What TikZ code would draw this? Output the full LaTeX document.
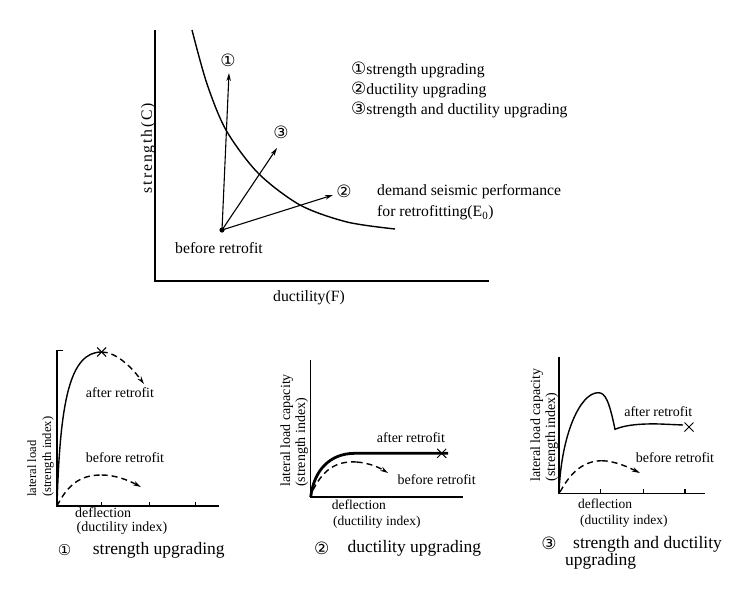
\documentclass[tikz,border=0pt]{standalone}
\usepackage{fontspec}
\setmainfont{Liberation Serif}
\newfontfamily\symf{DejaVu Sans}
\usetikzlibrary{arrows.meta,shapes.misc,calc}
\tikzset{
  ax/.style={line width=1.3pt},
  crv/.style={line width=1.4pt},
  thk/.style={line width=2.8pt},
  dsh/.style={line width=1.4pt, dash pattern=on 6pt off 4pt},
  arr/.style={-{Stealth[length=8pt,width=4.5pt]}},
  lbl/.style={inner sep=0pt, font=\fontsize{15.7}{19}\selectfont},
  sml/.style={inner sep=0pt, font=\fontsize{14}{16}\selectfont},
  defl/.style={inner sep=0pt, anchor=west, align=left, font=\fontsize{14}{13.5}\selectfont},
  rot/.style={inner sep=0pt, rotate=90, anchor=west},
  capt/.style={inner sep=0pt, font=\fontsize{17.5}{20}\selectfont},
  num/.style={inner sep=0pt, font=\symf\fontsize{17}{18}\selectfont},
  xm/.style={cross out, draw, line width=1pt, minimum size=8pt, inner sep=0pt},
}
\newcommand{\cnum}[1]{{\symf\fontsize{17}{18}\selectfont #1}}
\begin{document}
\begin{tikzpicture}[x=1pt,y=-1pt]
\useasboundingbox (0,0) rectangle (756,595);
% ================= main chart =================
\coordinate (Ytop) at (155,30);
\coordinate (O) at (155,281);
\coordinate (Xend) at (489,281);
\draw[ax] (Ytop) -- (O) -- (Xend);
\draw[crv] plot[smooth] coordinates {(192,30) (206.7,83) (226,130) (258,173) (300,205) (347,222) (395,229)};
\coordinate (br) at (222,230);
\fill (br) circle (2.6);
\coordinate (a1) at (229,73);
\coordinate (a3) at (277,148);
\coordinate (a2) at (333,195);
\draw[line width=1.1pt, arr] (br) -- (a1);
\draw[line width=1.1pt, arr] (br) -- (a3);
\draw[line width=1.1pt, arr] (br) -- (a2);
\node[num] (n1) at (228,60) {①};
\node[num] (n3) at (281,132) {③};
\node[num] (n2) at (344,191) {②};
\node[lbl] (brl) at (219,248) {before retrofit};
\node[lbl, anchor=west] (lg1) at (351,70) {\cnum{①}strength upgrading};
\node[lbl, anchor=west] (lg2) at (351,90) {\cnum{②}ductility upgrading};
\node[lbl, anchor=west] (lg3) at (351,110) {\cnum{③}strength and ductility upgrading};
\node[lbl, anchor=west] (dm1) at (377,192) {demand seismic performance};
\node[lbl, anchor=west] (dm2) at (377,213) {for retrofitting(E\textsubscript{0})};
\node[lbl, rotate=90] (yl) at (148,148) {\addfontfeature{LetterSpace=12}strength(C)};
\node[lbl] (xl) at (309,298) {ductility(F)};
% ================= chart 1 =================
\coordinate (Y1) at (57,350.7);
\coordinate (Y1t) at (63,350.7);
\coordinate (O1) at (57,506);
\coordinate (X1) at (219,506);
\draw[ax] (Y1t) -- (Y1) -- (O1) -- (X1);
\foreach \t in {101.7,149.3,195.7} \draw[ax] (\t,506) -- (\t,502);
\draw[crv] (O1) .. controls (60,400) and (70,352) .. (101.7,352);
\node[xm] (x1) at (101.7,352) {};
\draw[dsh, arr] (101.7,352) .. controls (115,352) and (130,365) .. (144,384);
\draw[dsh] (O1) .. controls (70,480) and (85,475) .. (101.7,475);
\draw[dsh, arr] (101.7,475) .. controls (115,475) and (128,480) .. (141,487);
\node[sml] (c1a) at (120,393) {after retrofit};
\node[sml] (c1b) at (125,458) {before retrofit};
\node[rot, font=\fontsize{12.6}{14}\selectfont] (c1y1) at (31.7,497) {lateral load};
\node[rot, font=\fontsize{12.6}{14}\selectfont] (c1y2) at (48,497) {(strength index)};
\node[defl] (c1x) at (75,521) {deflection\\\hspace*{1.5pt}(ductility index)};
\node[num, font=\symf\fontsize{15}{16}\selectfont] (c1n) at (64.7,550) {①};
\node[capt, anchor=west] (c1c) at (92.7,550) {strength upgrading};
% ================= chart 2 =================
\coordinate (Y2) at (310.7,360);
\coordinate (O2) at (310.7,497);
\coordinate (X2) at (463.3,497);
\draw[ax] (Y2) -- (O2) -- (X2);
\draw[thk] (O2) .. controls (314,470) and (330,453.3) .. (355,453.3) -- (448,453.3);
\node[xm] (x2) at (441.7,453.3) {};
\draw[dsh] (313,490) .. controls (325,466) and (340,461) .. (356.7,462);
\draw[dsh, arr] (356.7,462) .. controls (370,463) and (380,468) .. (388,473);
\node[sml] (c2a) at (411,438) {after retrofit};
\node[sml] (c2b) at (436.7,480) {before retrofit};
\node[rot, font=\fontsize{14}{16}\selectfont] (c2y1) at (286.7,487) {lateral load capacity};
\node[rot, font=\fontsize{14}{16}\selectfont] (c2y2) at (301.7,487) {(strength index)};
\node[defl, font=\fontsize{13.5}{16}\selectfont] (c2x) at (331.7,514.5) {deflection\\\hspace*{1.3pt}(ductility index)};
\node[num] (c2n) at (321.7,548) {②};
\node[capt, anchor=west] (c2c) at (347.3,548) {ductility upgrading};
% ================= chart 3 =================
\coordinate (Y3) at (559,356.7);
\coordinate (O3) at (559,493.3);
\coordinate (X3) at (705,493.3);
\draw[ax] (Y3) -- (O3) -- (X3);
\foreach \t in {600.7,643.3,685} \draw[ax] (\t,493.3) -- (\t,489.3);
\draw[crv] (O3) .. controls (561,435) and (580,393) .. (598,392.7)
  .. controls (605,392.5) and (609,400) .. (615,429.3)
  .. controls (625,425) and (640,423.5) .. (660,424) -- (683,425);
\node[xm] (x3) at (689,427) {};
\draw[dsh] (560,492) .. controls (572,470) and (585,461) .. (601.7,460.7);
\draw[dsh, arr] (601.7,460.7) .. controls (615,461) and (628,467) .. (640,473);
\node[sml] (c3a) at (658.3,411.7) {after retrofit};
\node[sml] (c3b) at (675,457.3) {before retrofit};
\node[rot, font=\fontsize{14}{16}\selectfont] (c3y1) at (536.7,481.7) {lateral load capacity};
\node[rot, font=\fontsize{14}{16}\selectfont] (c3y2) at (551.7,481.7) {(strength index)};
\node[defl, font=\fontsize{13.5}{15.3}\selectfont] (c3x) at (578,513.3) {deflection\\\hspace*{2pt}(ductility index)};
\node[num] (c3n) at (549,543.3) {③};
\node[capt, anchor=north west, align=left, font=\fontsize{17.5}{15}\selectfont] (c3c) at (573,536) {strength and ductility\\\hspace*{-8pt}upgrading};
\end{tikzpicture}
\end{document}
